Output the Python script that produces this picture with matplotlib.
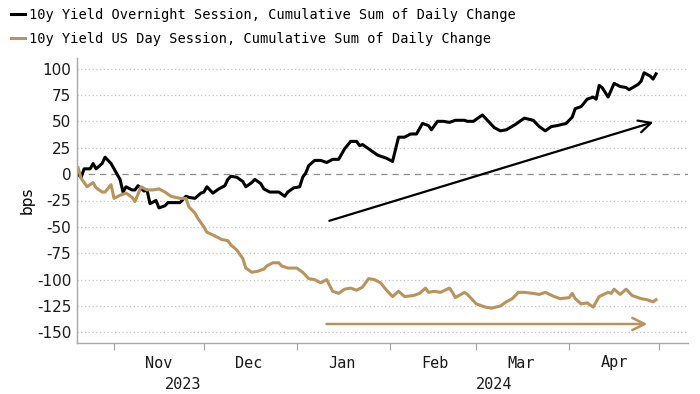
import pandas as pd
import matplotlib
matplotlib.use("Agg")
import matplotlib.pyplot as plt
import matplotlib.dates as mdates
import matplotlib.transforms as mtransforms

plt.rcParams['axes.unicode_minus'] = False

# 10y yield overnight session, cumulative sum of daily change (bps)
overnight_dates = [
    "2023-10-20", "2023-10-21", "2023-10-22", "2023-10-24", "2023-10-25", "2023-10-26",
    "2023-10-28", "2023-10-29", "2023-10-31", "2023-11-01", "2023-11-03", "2023-11-04",
    "2023-11-05", "2023-11-07", "2023-11-08", "2023-11-09", "2023-11-11", "2023-11-12",
    "2023-11-13", "2023-11-15", "2023-11-16", "2023-11-18", "2023-11-19", "2023-11-21",
    "2023-11-23", "2023-11-25", "2023-11-26", "2023-11-28", "2023-11-30", "2023-12-01",
    "2023-12-02", "2023-12-04", "2023-12-06", "2023-12-08", "2023-12-09", "2023-12-10",
    "2023-12-12", "2023-12-14", "2023-12-15", "2023-12-17", "2023-12-18", "2023-12-20",
    "2023-12-21", "2023-12-23", "2023-12-24", "2023-12-26", "2023-12-28", "2023-12-29",
    "2023-12-31", "2024-01-02", "2024-01-03", "2024-01-04", "2024-01-05", "2024-01-07",
    "2024-01-09", "2024-01-11", "2024-01-13", "2024-01-15", "2024-01-17", "2024-01-19",
    "2024-01-21", "2024-01-22", "2024-01-23", "2024-01-25", "2024-01-28", "2024-01-31",
    "2024-02-02", "2024-02-04", "2024-02-06", "2024-02-08", "2024-02-10", "2024-02-12",
    "2024-02-14", "2024-02-15", "2024-02-17", "2024-02-19", "2024-02-21", "2024-02-23",
    "2024-02-26", "2024-02-27", "2024-02-29", "2024-03-03", "2024-03-05", "2024-03-07",
    "2024-03-09", "2024-03-11", "2024-03-14", "2024-03-17", "2024-03-20", "2024-03-22",
    "2024-03-24", "2024-03-26", "2024-03-28", "2024-03-31", "2024-04-02", "2024-04-03",
    "2024-04-05", "2024-04-07", "2024-04-09", "2024-04-10", "2024-04-11", "2024-04-12",
    "2024-04-14", "2024-04-16", "2024-04-18", "2024-04-20", "2024-04-21", "2024-04-24",
    "2024-04-25", "2024-04-26", "2024-04-28", "2024-04-29", "2024-04-30",
]
overnight_vals = [
    0, -3, 5, 5, 10, 5,
    10, 16, 10, 5, -5, -17,
    -12, -15, -15, -11, -16, -15,
    -28, -25, -32, -30, -27, -27,
    -27, -21, -22, -23, -18, -17,
    -12, -18, -14, -11, -5, -2,
    -3, -7, -12, -8, -5, -9,
    -14, -17, -17, -17, -21, -17,
    -13, -12, -3, 1, 8, 13,
    13, 11, 14, 14, 24, 31,
    31, 27, 28, 24, 18, 15,
    12, 35, 35, 38, 38, 48,
    46, 42, 50, 50, 49, 51,
    51, 50, 50, 56, 50, 44,
    41, 42, 47, 53, 51, 45,
    41, 45, 46, 48, 54, 62,
    64, 71, 73, 71, 84, 82,
    73, 86, 83, 82, 80, 85,
    88, 96, 93, 90, 95,
]

# 10y yield US day session, cumulative sum of daily change (bps)
day_dates = [
    "2023-10-20", "2023-10-21", "2023-10-23", "2023-10-25", "2023-10-26", "2023-10-28",
    "2023-10-29", "2023-10-31", "2023-11-01", "2023-11-03", "2023-11-05", "2023-11-07",
    "2023-11-08", "2023-11-10", "2023-11-12", "2023-11-14", "2023-11-16", "2023-11-18",
    "2023-11-20", "2023-11-23", "2023-11-25", "2023-11-26", "2023-11-28", "2023-11-29",
    "2023-12-01", "2023-12-02", "2023-12-05", "2023-12-07", "2023-12-09", "2023-12-10",
    "2023-12-12", "2023-12-14", "2023-12-15", "2023-12-17", "2023-12-19", "2023-12-21",
    "2023-12-22", "2023-12-24", "2023-12-26", "2023-12-27", "2023-12-29", "2024-01-01",
    "2024-01-03", "2024-01-05", "2024-01-07", "2024-01-09", "2024-01-11", "2024-01-13",
    "2024-01-15", "2024-01-17", "2024-01-19", "2024-01-21", "2024-01-23", "2024-01-25",
    "2024-01-27", "2024-01-29", "2024-01-31", "2024-02-02", "2024-02-04", "2024-02-06",
    "2024-02-09", "2024-02-11", "2024-02-13", "2024-02-14", "2024-02-16", "2024-02-18",
    "2024-02-21", "2024-02-22", "2024-02-23", "2024-02-26", "2024-02-27", "2024-03-01",
    "2024-03-04", "2024-03-06", "2024-03-09", "2024-03-11", "2024-03-13", "2024-03-15",
    "2024-03-17", "2024-03-20", "2024-03-22", "2024-03-24", "2024-03-27", "2024-03-29",
    "2024-04-01", "2024-04-02", "2024-04-03", "2024-04-05", "2024-04-07", "2024-04-09",
    "2024-04-11", "2024-04-14", "2024-04-15", "2024-04-16", "2024-04-18", "2024-04-20",
    "2024-04-22", "2024-04-25", "2024-04-27", "2024-04-29", "2024-04-30",
]
day_vals = [
    6, -4, -12, -8, -13, -17,
    -17, -10, -23, -20, -18, -22,
    -26, -12, -15, -15, -14, -17,
    -21, -23, -23, -31, -37, -42,
    -50, -55, -59, -62, -63, -67,
    -72, -80, -89, -93, -92, -90,
    -87, -84, -84, -87, -89, -89,
    -93, -99, -100, -103, -100, -111,
    -113, -109, -108, -110, -107, -99,
    -100, -103, -110, -116, -111, -116,
    -115, -113, -108, -112, -111, -112,
    -108, -112, -117, -112, -114, -123,
    -126, -127, -125, -121, -118, -112,
    -112, -113, -114, -112, -116, -118,
    -117, -113, -118, -123, -122, -126,
    -116, -112, -113, -109, -114, -109,
    -115, -118, -119, -121, -119,
]

black = "#000000"
gold = "#b8935c"

fig = plt.figure(figsize=(7, 3.94), dpi=100)
ax = fig.add_axes([77 / 700, 51 / 394, 611 / 700, 285 / 394])

ax.plot(pd.to_datetime(overnight_dates), overnight_vals, color=black, lw=2.2,
        label="10y Yield Overnight Session, Cumulative Sum of Daily Change")
ax.plot(pd.to_datetime(day_dates), day_vals, color=gold, lw=2.2,
        label="10y Yield US Day Session, Cumulative Sum of Daily Change")

# trend arrows
ax.annotate("", xy=(pd.Timestamp("2024-04-30"), 50), xytext=(pd.Timestamp("2024-01-11"), -45),
            arrowprops=dict(arrowstyle="->", color=black, lw=1.6, mutation_scale=22))
ax.annotate("", xy=(pd.Timestamp("2024-04-28"), -142), xytext=(pd.Timestamp("2024-01-10"), -142),
            arrowprops=dict(arrowstyle="->", color=gold, lw=1.8, mutation_scale=22))

ax.set_xlim(pd.Timestamp("2023-10-19 15:00"), pd.Timestamp("2024-05-10 16:00"))
ax.set_ylim(-160, 110)

# horizontal grid
yt = list(range(-150, 101, 25))
for v in yt:
    if v == 0:
        ax.axhline(0, color="#8c8c8c", lw=0.9, ls=(0, (5, 4)), zorder=0)
    else:
        ax.axhline(v, color="#c4c4c4", lw=0.9, ls=(0, (1, 2)), zorder=0)
ax.set_yticks(yt)
ax.set_yticklabels([str(v) for v in yt], fontsize=11, color="#1a1a1a")
ax.tick_params(axis="y", length=0, pad=4)
ax.set_ylabel("bps", fontsize=11, labelpad=2)

# x ticks: month boundaries, labels mid-month
month_starts = pd.date_range("2023-11-01", "2024-05-01", freq="MS")
ax.set_xticks(month_starts)
ax.set_xticklabels([])
ax.tick_params(axis="x", which="major", length=5, color="#a0a0a0", direction="out")
mids = month_starts[:-1] + pd.Timedelta(days=15)
ax.set_xticks(mids, minor=True)
ax.set_xticklabels([d.strftime("%b") for d in mids], minor=True,
                   fontsize=11, family="DejaVu Sans Mono", color="#1a1a1a")
ax.tick_params(axis="x", which="minor", length=0, pad=9)

trans = mtransforms.blended_transform_factory(ax.transData, ax.transAxes)
ax.text(mdates.date2num(pd.Timestamp("2023-11-24")), -0.12, "2023", transform=trans,
        ha="center", va="top", fontsize=11, family="DejaVu Sans Mono", color="#1a1a1a")
ax.text(mdates.date2num(pd.Timestamp("2024-03-07")), -0.12, "2024", transform=trans,
        ha="center", va="top", fontsize=11, family="DejaVu Sans Mono", color="#1a1a1a")

for s in ["top", "right"]:
    ax.spines[s].set_visible(False)
for s in ["left", "bottom"]:
    ax.spines[s].set_color("#a8a8a8")
    ax.spines[s].set_linewidth(1.0)

fig.legend(loc="upper left", bbox_to_anchor=(0.002, 1.005), frameon=False,
           prop={"family": "DejaVu Sans Mono", "size": 9.8}, handlelength=1.0,
           handletextpad=0.35, labelspacing=0.75, borderaxespad=0.3)

fig.savefig("out.png", dpi=100)
